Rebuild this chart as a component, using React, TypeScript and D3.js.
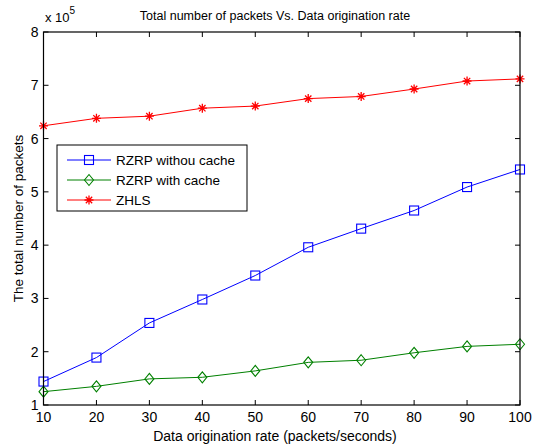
import React, { useEffect, useRef } from "react";
import * as d3 from "d3";

const rates = [10, 20, 30, 40, 50, 60, 70, 80, 90, 100];
const noCache = [1.44, 1.89, 2.54, 2.98, 3.43, 3.96, 4.31, 4.65, 5.09, 5.42];
const withCache = [1.25, 1.35, 1.49, 1.52, 1.64, 1.80, 1.84, 1.98, 2.10, 2.14];
const zhls = [6.24, 6.38, 6.42, 6.57, 6.61, 6.75, 6.79, 6.93, 7.08, 7.12];
const xTicks = [10, 20, 30, 40, 50, 60, 70, 80, 90, 100];
const yTicks = [1, 2, 3, 4, 5, 6, 7, 8];

const series = [
  { name: "RZRP withou cache", values: noCache, color: "#0000ff", marker: "square" },
  { name: "RZRP with cache", values: withCache, color: "#008000", marker: "diamond" },
  { name: "ZHLS", values: zhls, color: "#ff0000", marker: "star" },
];

const W = 534;
const H = 446;
const margin = { top: 32, right: 14, bottom: 41, left: 43.5 };

function drawMarker(g: any, kind: string, cx: number, cy: number, color: string) {
  if (kind === "square") {
    g.append("rect")
      .attr("x", cx - 4.5).attr("y", cy - 4.5)
      .attr("width", 9).attr("height", 9)
      .attr("fill", "none").attr("stroke", color).attr("stroke-width", 1.1);
  } else if (kind === "diamond") {
    g.append("path")
      .attr("d", `M${cx},${cy - 5.5}L${cx + 4.5},${cy}L${cx},${cy + 5.5}L${cx - 4.5},${cy}Z`)
      .attr("fill", "none").attr("stroke", color).attr("stroke-width", 1.1);
  } else {
    const r = 4.5;
    const d = [0, 45, 90, 135].map(a => {
      const t = (a * Math.PI) / 180;
      return `M${cx - r * Math.cos(t)},${cy - r * Math.sin(t)}L${cx + r * Math.cos(t)},${cy + r * Math.sin(t)}`;
    }).join("");
    g.append("path").attr("d", d).attr("stroke", color).attr("stroke-width", 1.3);
  }
}

export default function App() {
  const ref = useRef<SVGSVGElement>(null);

  useEffect(() => {
    const svg = d3.select(ref.current);
    svg.selectAll("*").remove();
    const font = "'Liberation Sans', Arial, sans-serif";

    const x = d3.scaleLinear().domain([10, 100]).range([margin.left, W - margin.right]);
    const y = d3.scaleLinear().domain([1, 8]).range([H - margin.bottom, margin.top]);

    svg.append("rect").attr("width", W).attr("height", H).attr("fill", "#fff");

    // ticks, inside on all four sides
    const ticks = svg.append("g").attr("stroke", "#000").attr("stroke-width", 1);
    xTicks.forEach(t => {
      ticks.append("line").attr("x1", x(t)).attr("x2", x(t)).attr("y1", y(1)).attr("y2", y(1) - 5);
      ticks.append("line").attr("x1", x(t)).attr("x2", x(t)).attr("y1", y(8)).attr("y2", y(8) + 5);
    });
    yTicks.forEach(t => {
      ticks.append("line").attr("x1", x(10)).attr("x2", x(10) + 5).attr("y1", y(t)).attr("y2", y(t));
      ticks.append("line").attr("x1", x(100)).attr("x2", x(100) - 5).attr("y1", y(t)).attr("y2", y(t));
    });

    const labels = svg.append("g").attr("font-family", font).attr("font-size", 14).attr("fill", "#000");
    xTicks.forEach(t => {
      labels.append("text").attr("x", x(t)).attr("y", y(1) + 17).attr("text-anchor", "middle").text(t);
    });
    yTicks.forEach(t => {
      labels.append("text").attr("x", x(10) - 5).attr("y", y(t) + 5).attr("text-anchor", "end").text(t);
    });

    // series lines and markers
    series.forEach(s => {
      const line = d3.line<number>().x((_, i) => x(rates[i])).y(d => y(d));
      svg.append("path").attr("d", line(s.values)).attr("fill", "none")
        .attr("stroke", s.color).attr("stroke-width", 1);
      const mg = svg.append("g");
      s.values.forEach((v, i) => drawMarker(mg, s.marker, x(rates[i]), y(v), s.color));
    });

    // frame
    svg.append("rect")
      .attr("x", x(10)).attr("y", y(8))
      .attr("width", x(100) - x(10)).attr("height", y(1) - y(8))
      .attr("fill", "none").attr("stroke", "#000").attr("stroke-width", 1.2);

    // legend
    const lg = svg.append("g").attr("font-family", font).attr("font-size", 13.5);
    lg.append("rect").attr("x", 57).attr("y", 145).attr("width", 190).attr("height", 66)
      .attr("fill", "#fff").attr("stroke", "#000").attr("stroke-width", 1);
    series.forEach((s, i) => {
      const ly = 160 + i * 20;
      lg.append("line").attr("x1", 67).attr("x2", 111).attr("y1", ly).attr("y2", ly)
        .attr("stroke", s.color).attr("stroke-width", 1);
      drawMarker(lg, s.marker, 89, ly, s.color);
      lg.append("text").attr("x", 116).attr("y", ly + 5).attr("fill", "#000").text(s.name);
    });

    // titles
    svg.append("text").attr("x", 275).attr("y", 20).attr("text-anchor", "middle")
      .attr("font-family", font).attr("font-size", 12.5).text("Total number of packets Vs. Data origination rate");
    const ex = svg.append("text").attr("x", 45).attr("y", 22).attr("font-family", font).attr("font-size", 13);
    ex.append("tspan").text("x 10");
    ex.append("tspan").attr("dy", -8).attr("font-size", 10).text("5");
    svg.append("text").attr("x", 275).attr("y", 441).attr("text-anchor", "middle")
      .attr("font-family", font).attr("font-size", 14).text("Data origination rate (packets/seconds)");
    svg.append("text").attr("transform", `translate(23,${(y(1) + y(8)) / 2}) rotate(-90)`)
      .attr("text-anchor", "middle").attr("font-family", font).attr("font-size", 13.5)
      .text("The total number of packets");
  }, []);

  return (
    <svg ref={ref} width={W} height={H}
      style={{ position: "absolute", left: 0, top: 0, display: "block" }} />
  );
}
